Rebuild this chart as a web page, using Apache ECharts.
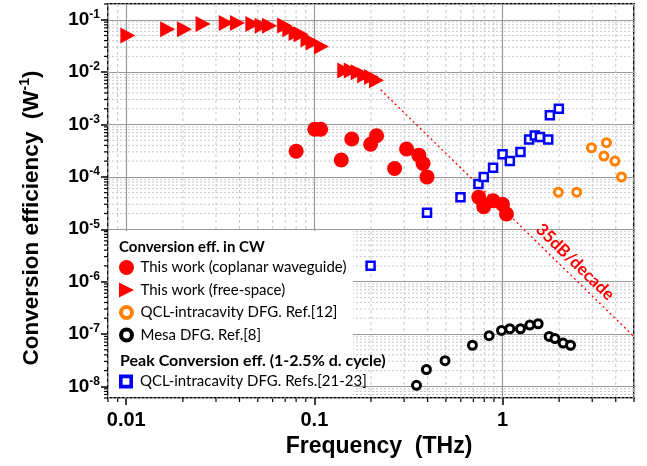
<!DOCTYPE html>
<html>
<head>
<meta charset="utf-8">
<script src="https://cdn.jsdelivr.net/npm/echarts@6/dist/echarts.min.js"></script>
<style>
  html, body { margin: 0; padding: 0; background: #fff; }
  #main { width: 647px; height: 466px; }
</style>
</head>
<body>
<div id="main"></div>
<script>
// values: [frequency (THz), conversion efficiency (1/W)]
var coplanarCW = [[0.080, 3.1e-4], [0.1005, 8.1e-4], [0.108, 8.1e-4], [0.139, 2.1e-4], [0.158, 5.3e-4],
  [0.199, 4.2e-4], [0.214, 6.1e-4], [0.267, 1.45e-4], [0.309, 3.4e-4], [0.359, 2.6e-4], [0.378, 1.8e-4],
  [0.397, 1.0e-4], [0.748, 4.1e-5], [0.795, 2.7e-5], [0.891, 3.5e-5], [1.0, 3.0e-5], [1.05, 1.95e-5]];
var freeSpaceCW = [[0.0102, 0.050], [0.0166, 0.066], [0.0204, 0.066], [0.0256, 0.083], [0.034, 0.087],
  [0.039, 0.087], [0.0471, 0.083], [0.0528, 0.077], [0.0578, 0.077], [0.0695, 0.078], [0.074, 0.066],
  [0.080, 0.056], [0.085, 0.053], [0.0925, 0.042], [0.0984, 0.037], [0.109, 0.031],
  [0.145, 0.0108], [0.157, 0.0108], [0.171, 0.0100], [0.185, 0.0087], [0.201, 0.0081], [0.214, 0.0070]];
var qclRef12 = [[1.98, 5.1e-5], [2.48, 5.1e-5], [2.97, 3.6e-4], [3.46, 2.5e-4], [3.57, 4.5e-4], [3.96, 2.0e-4], [4.29, 1.0e-4]];
var mesaRef8 = [[0.349, 1.05e-8], [0.394, 2.1e-8], [0.495, 3.1e-8], [0.692, 6.1e-8], [0.849, 9.3e-8], [0.988, 1.17e-7],
  [1.094, 1.26e-7], [1.246, 1.26e-7], [1.397, 1.48e-7], [1.547, 1.57e-7], [1.77, 9.0e-8], [1.9, 8.2e-8],
  [2.1, 6.7e-8], [2.3, 6.1e-8]];
var qclPeak = [[0.199, 2.0e-6], [0.397, 2.07e-5], [0.598, 4.1e-5], [0.745, 7.3e-5], [0.795, 1.0e-4], [0.891, 1.5e-4],
  [1.0, 2.7e-4], [1.094, 2.0e-4], [1.246, 3.0e-4], [1.385, 5.2e-4], [1.485, 6.2e-4], [1.58, 5.8e-4],
  [1.75, 5.2e-4], [1.785, 1.5e-3], [1.993, 2.0e-3]];
var slopeLine = [[0.225, 4.6e-3], [5, 8.9e-8]];   // 35 dB/decade guide

var xRange = [0.008, 5];
var yRange = [6e-9, 0.2];
var minorMults = [2, 3, 4, 5, 6, 7, 8, 9];

var names = ['This work (coplanar waveguide)', 'This work (free-space)', 'QCL-intracavity DFG. Ref.[12]',
  'Mesa DFG. Ref.[8]', 'QCL-intracavity DFG. Refs.[21-23]'];

var RED = '#ff0000', ORANGE = '#ff8000', BLUE = '#0000ff';
var TRI = 'path://M0,0L10,5L0,10Z';
var RING = 'path://M0,5A5,5 0 1 1 10,5A5,5 0 1 1 0,5Z M2.7,5A2.3,2.3 0 1 0 7.3,5A2.3,2.3 0 1 0 2.7,5Z';
var SQRING = 'path://M0,0H10V10H0Z M2.6,2.6V7.4H7.4V2.6Z';

function minorValues(range) {
  var out = [];
  for (var e = Math.floor(Math.log10(range[0])); e <= Math.ceil(Math.log10(range[1])); e++) {
    minorMults.forEach(function (m) {
      var v = m * Math.pow(10, e);
      if (v >= range[0] * 0.999 && v <= range[1] * 1.001) out.push(v);
    });
  }
  return out;
}

// log-axis minor grid (2..9 per decade) and minor ticks, drawn through the axes
function minorSeries(values, isX) {
  return {
    type: 'custom',
    silent: true,
    z: 1,
    clip: false,
    data: values.map(function (v) { return isX ? [v, 1e-4] : [0.1, v]; }),
    renderItem: function (params, api) {
      var cs = params.coordSys;
      var p = api.coord([api.value(0), api.value(1)]);
      if (isX) {
        return { type: 'group', children: [
          { type: 'line', shape: { x1: p[0], y1: cs.y, x2: p[0], y2: cs.y + cs.height },
            style: { stroke: '#c8c8c8', lineWidth: 1, lineDash: [3, 3] } },
          { type: 'line', shape: { x1: p[0], y1: cs.y + cs.height, x2: p[0], y2: cs.y + cs.height + 4 },
            style: { stroke: '#000', lineWidth: 1.2 } }
        ] };
      }
      return { type: 'group', children: [
        { type: 'line', shape: { x1: cs.x, y1: p[1], x2: cs.x + cs.width, y2: p[1] },
          style: { stroke: '#c8c8c8', lineWidth: 1, lineDash: [2, 2] } },
        { type: 'line', shape: { x1: cs.x - 4, y1: p[1], x2: cs.x, y2: p[1] },
          style: { stroke: '#000', lineWidth: 1.2 } }
      ] };
    }
  };
}

var chart = echarts.init(document.getElementById('main'));
var option = {
  animation: false,
  grid: { left: 108, right: 13, top: 4, bottom: 68, show: true, borderColor: '#000', borderWidth: 2, backgroundColor: '#fff' },
  xAxis: {
    type: 'log',
    min: xRange[0],
    max: xRange[1],
    name: 'Frequency  (THz)',
    nameLocation: 'middle',
    nameGap: 37,
    nameTextStyle: { fontFamily: 'Liberation Sans, Arial', fontWeight: 'bold', fontSize: 23, color: '#000', padding: [0, 0, 0, 16] },
    axisLine: { show: false },
    axisTick: { show: true, length: 7, lineStyle: { color: '#000', width: 1.5 } },
    axisLabel: {
      showMinLabel: false, showMaxLabel: false, margin: 12,
      fontFamily: 'Liberation Sans, Arial', fontWeight: 'bold', fontSize: 20, color: '#000',
      formatter: function (v) { return String(parseFloat(v.toPrecision(3))); }
    },
    splitLine: { show: true, lineStyle: { color: '#999', width: 1.2 } }
  },
  yAxis: {
    type: 'log',
    min: yRange[0],
    max: yRange[1],
    name: 'Conversion efficiency  (W{s|-1})',
    nameLocation: 'middle',
    nameRotate: 90,
    nameGap: 62,
    nameTextStyle: {
      fontFamily: 'Liberation Sans, Arial', fontWeight: 'bold', fontSize: 22.5, color: '#000', lineHeight: 28,
      padding: [0, 34, 0, 0],
      rich: { s: { fontFamily: 'Liberation Sans, Arial', fontWeight: 'bold', fontSize: 14, color: '#000', verticalAlign: 'top', lineHeight: 14 } }
    },
    axisLine: { show: false },
    axisTick: { show: true, length: 7, lineStyle: { color: '#000', width: 1.5 } },
    axisLabel: {
      showMinLabel: false, showMaxLabel: false, margin: 8,
      formatter: function (v) { return '{b|10}{s|' + Math.round(Math.log10(v)) + '}'; },
      rich: {
        b: { fontFamily: 'Liberation Sans, Arial', fontWeight: 'bold', fontSize: 19, color: '#000', lineHeight: 22 },
        s: { fontFamily: 'Liberation Sans, Arial', fontWeight: 'bold', fontSize: 12, color: '#000', verticalAlign: 'top', lineHeight: 12 }
      }
    },
    splitLine: { show: true, lineStyle: { color: '#999', width: 1.2 } }
  },
  legend: [
    {
      orient: 'vertical', left: 119, top: 260, padding: 0,
      itemWidth: 18, itemHeight: 15, itemGap: 7.5, selectedMode: false, z: 10,
      textStyle: { fontFamily: 'Lato', fontSize: 15, color: '#000', lineHeight: 15 },
      data: [
        { name: names[0], icon: 'circle', itemStyle: { color: RED } },
        { name: names[1], icon: TRI, itemStyle: { color: RED } },
        { name: names[2], icon: RING, itemStyle: { color: ORANGE, borderWidth: 0 } },
        { name: names[3], icon: RING, itemStyle: { color: '#000', borderWidth: 0 } }
      ]
    },
    {
      orient: 'vertical', left: 119, top: 374, padding: 0,
      itemWidth: 18, itemHeight: 14, selectedMode: false, z: 10,
      textStyle: { fontFamily: 'Lato', fontSize: 15, color: '#000', lineHeight: 15 },
      data: [{ name: names[4], icon: SQRING, itemStyle: { color: BLUE, borderWidth: 0 } }]
    }
  ],
  graphic: [
    { type: 'rect', z: 3, shape: { x: 109, y: 231, width: 244, height: 166 }, style: { fill: '#fff' } },
    { type: 'text', z: 10, x: 119, y: 247,
      style: { text: 'Conversion eff. in CW', fill: '#000', font: 'bold 15px Lato', verticalAlign: 'middle' } },
    { type: 'text', z: 10, x: 120, y: 361,
      style: { text: 'Peak Conversion eff. (1-2.5% d. cycle)', fill: '#000', font: 'bold 16px Lato', verticalAlign: 'middle' } },
    { type: 'text', z: 10, x: 575, y: 262, rotation: -0.77,
      style: { text: '35dB/decade', fill: RED, font: 'bold 17px Lato', align: 'center', verticalAlign: 'middle' } }
  ],
  series: [
    minorSeries(minorValues(xRange), true),
    minorSeries(minorValues(yRange), false),
    {
      name: 'slope', type: 'line', data: slopeLine, symbol: 'none', z: 2,
      lineStyle: { color: RED, width: 1.3, type: [2, 3] }
    },
    {
      name: names[1], type: 'scatter', data: freeSpaceCW, symbol: TRI, symbolSize: [15, 16],
      itemStyle: { color: RED, opacity: 1 }
    },
    {
      name: names[0], type: 'scatter', data: coplanarCW, symbol: 'circle', symbolSize: 15,
      itemStyle: { color: RED, opacity: 1 }
    },
    {
      name: names[2], type: 'scatter', data: qclRef12, symbol: 'circle', symbolSize: 8,
      itemStyle: { color: '#fff', borderColor: ORANGE, borderWidth: 3, opacity: 1 }
    },
    {
      name: names[3], type: 'scatter', data: mesaRef8, symbol: 'circle', symbolSize: 8,
      itemStyle: { color: '#fff', borderColor: '#000', borderWidth: 3, opacity: 1 }
    },
    {
      name: names[4], type: 'scatter', data: qclPeak, symbol: 'rect', symbolSize: 8,
      itemStyle: { color: '#fff', borderColor: BLUE, borderWidth: 2.5, opacity: 1 }
    }
  ]
};
option && chart.setOption(option);
window.addEventListener('resize', function () { chart.resize(); });
</script>
</body>
</html>
